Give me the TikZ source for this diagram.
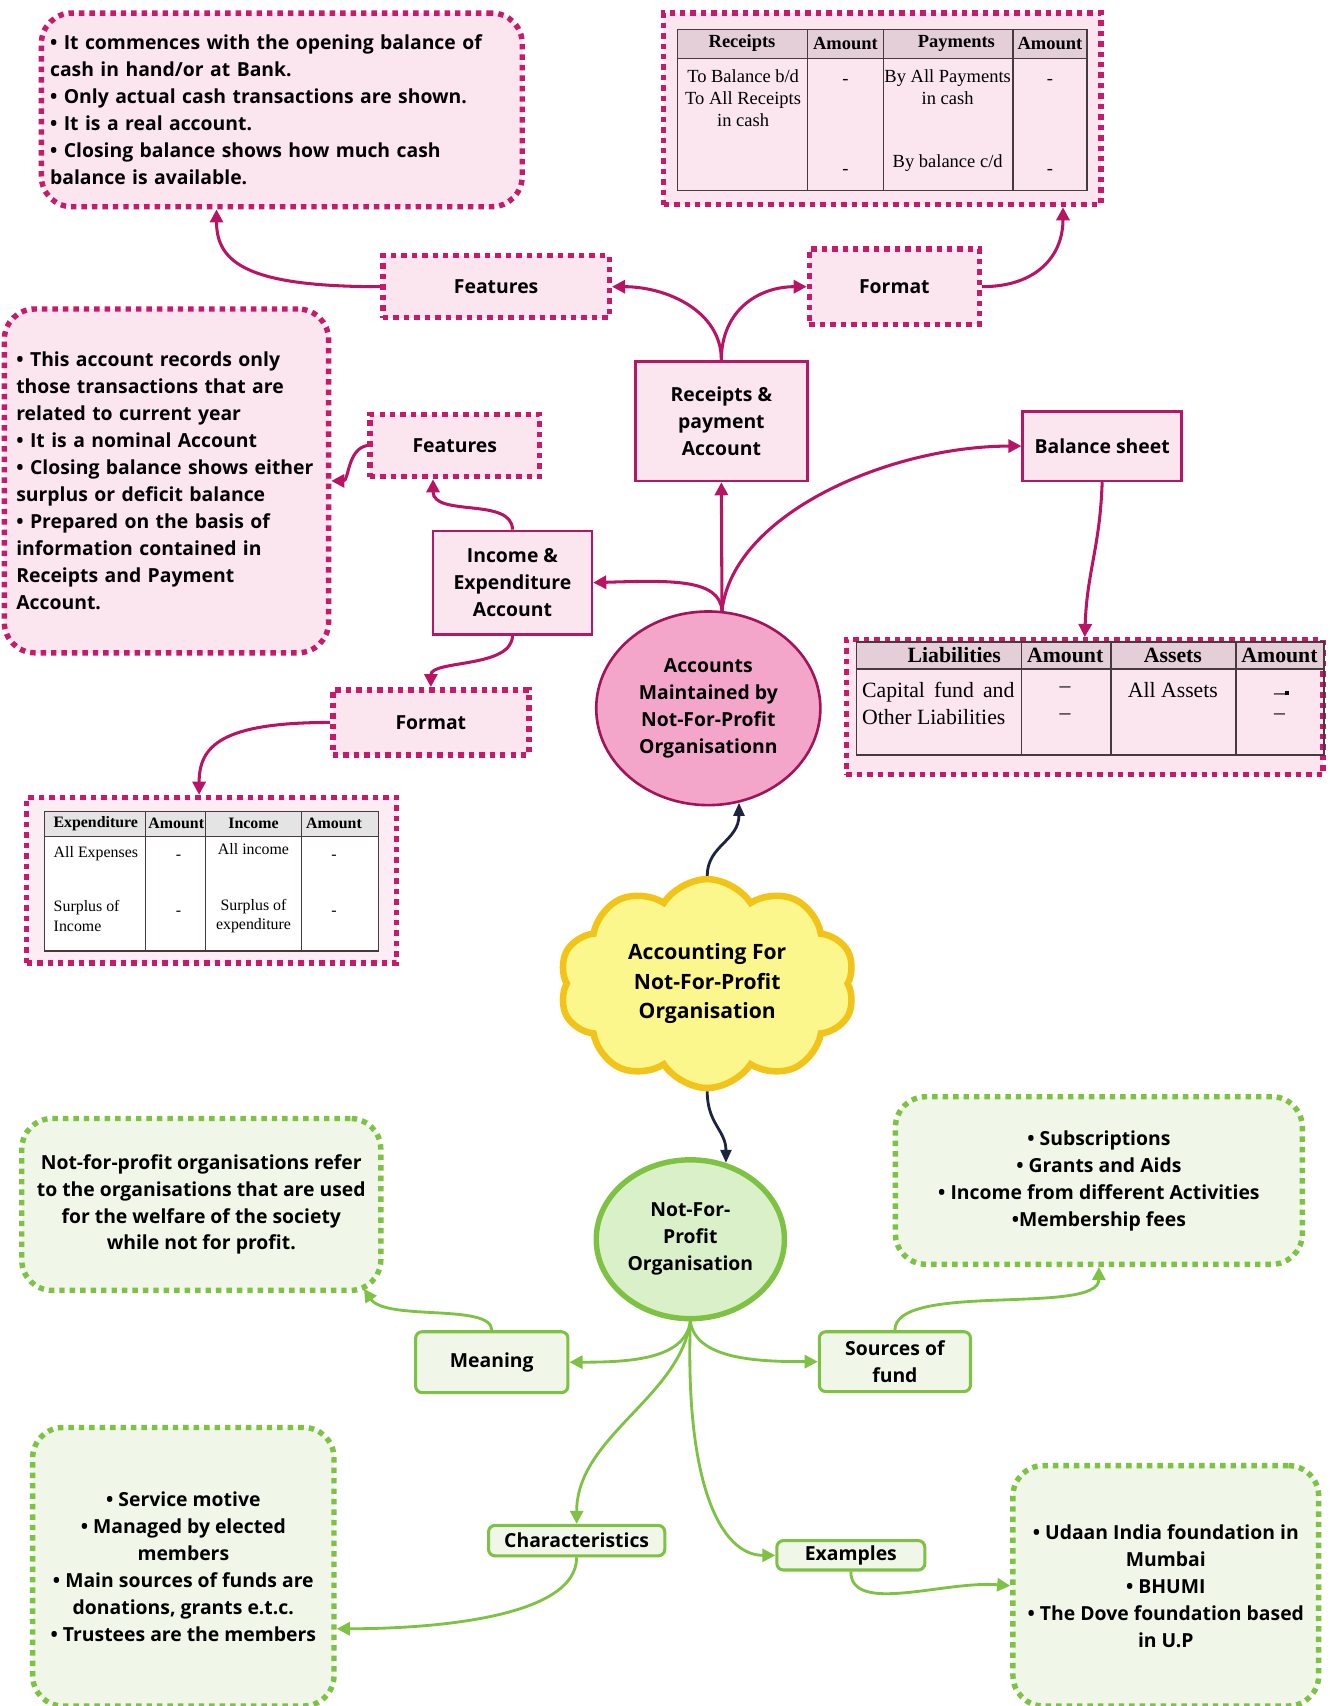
\documentclass[tikz,border=0pt]{standalone}
\usepackage{fontspec}
\setmainfont{Open Sans}
\newfontfamily\tabfont{Liberation Serif}
\usetikzlibrary{shapes.geometric,shapes.symbols,arrows.meta}
\definecolor{dotpink}{RGB}{201,26,105}
\definecolor{lightpink}{RGB}{251,229,238}
\definecolor{boxpink}{RGB}{183,22,100}
\definecolor{arrowpink}{RGB}{185,20,100}
\definecolor{accfill}{RGB}{244,166,202}
\definecolor{accdraw}{RGB}{160,20,90}
\definecolor{hdpink}{RGB}{228,206,216}
\definecolor{hdgray}{RGB}{228,228,228}
\definecolor{iepink}{RGB}{252,236,243}
\definecolor{tabgray}{RGB}{70,58,64}
\definecolor{cloudfill}{RGB}{252,247,140}
\definecolor{clouddraw}{RGB}{242,196,25}
\definecolor{npogreen}{RGB}{125,194,66}
\definecolor{npofill}{RGB}{218,240,200}
\definecolor{greenfill}{RGB}{240,247,233}
\definecolor{darknavy}{RGB}{28,36,64}
\begin{document}
\begin{tikzpicture}[x=0.5pt,y=-0.5pt,
	txt/.style={font=\fontsize{8.9}{12.4}\selectfont\bfseries},
	pinkdot/.style={draw=dotpink,fill=lightpink,line width=2.5pt,dash pattern=on 2.5pt off 2.3pt},
	pinkbox/.style={draw=boxpink,fill=lightpink,line width=1.2pt,txt,align=center,inner sep=0pt},
	greenbox/.style={draw=npogreen,fill=greenfill,line width=1.4pt,rounded corners=3pt,txt,align=center,inner sep=0pt},
	greendot/.style={draw=npogreen,fill=greenfill,line width=2.5pt,dash pattern=on 2.5pt off 2.3pt,rounded corners=14pt,txt,align=center,inner sep=0pt},
	pinkarrow/.style={draw=arrowpink,line width=1.4pt,-{Triangle[length=6pt,width=6pt]}},
	greenarrow/.style={draw=npogreen,line width=1.3pt,-{Triangle[length=6pt,width=6pt]}},
	darkarrow/.style={draw=darknavy,line width=1.3pt,-{Triangle[length=6pt,width=5pt]}},
	tab/.style={draw=tabgray,line width=0.6pt},
	tabtxt/.style={font=\tabfont\fontsize{8.5}{10}\selectfont,inner sep=0pt,align=center},
	tabhd/.style={font=\tabfont\fontsize{8.5}{10}\selectfont\bfseries,inner sep=0pt}]
	\useasboundingbox (0,0) rectangle (1222,1568);

	\node[pinkdot,rounded corners=14pt,txt,minimum width=221pt,minimum height=89pt,text width=213pt,inner xsep=4pt,align=left] (featRtext) at (259,101) {• It commences with the opening balance of\\cash in hand/or at Bank.\\• Only actual cash transactions are shown.\\• It is a real account.\\• Closing balance shows how much cash\\balance is available.};
	\node[pinkdot,minimum width=201pt,minimum height=88pt,inner sep=0pt] (rpTbox) at (811,100) {};
	\node[pinkbox,pinkdot,minimum width=104pt,minimum height=28.5pt] (featRP) at (456,263.5) {Features};
	\node[pinkbox,pinkdot,minimum width=78pt,minimum height=34.5pt] (fmtRP) at (822,263.5) {Format};
	\node[pinkbox,minimum width=79pt,minimum height=55pt] (rp) at (663,387) {Receipts \&\\payment\\Account};
	\node[pinkbox,minimum width=73pt,minimum height=32pt] (bs) at (1013,410) {Balance sheet};
	\node[pinkdot,rounded corners=14pt,txt,minimum width=149pt,minimum height=158pt,text width=138pt,inner xsep=5.5pt,align=left] (featIEtext) at (153,442) {• This account records only\\those transactions that are\\related to current year\\• It is a nominal Account\\• Closing balance shows either\\surplus or deficit balance\\• Prepared on the basis of\\information contained in\\Receipts and Payment\\Account.};
	\node[pinkbox,pinkdot,minimum width=78pt,minimum height=28.5pt] (featIE) at (418,409.5) {Features};
	\node[pinkbox,minimum width=73pt,minimum height=47.5pt] (ie) at (471,535.5) {Income \&\\Expenditure\\Account};
	\node[pinkbox,pinkdot,minimum width=90pt,minimum height=30pt] (fmtIE) at (396,664) {Format};
	\node[pinkdot,minimum width=219pt,minimum height=62pt,inner sep=0pt] (bsTbox) at (997,650) {};
	\node[pinkdot,fill=iepink,minimum width=170pt,minimum height=76pt,inner sep=0pt] (ieTbox) at (194.5,809) {};
	\node[ellipse,draw=accdraw,fill=accfill,line width=1.2pt,minimum width=103pt,minimum height=89pt,inner sep=0pt,txt,align=center] (acc) at (651,651) {Accounts\\Maintained by\\Not-For-Profit\\Organisationn};
	\node[cloud,cloud puffs=10,cloud puff arc=115,aspect=1.4,draw=clouddraw,fill=cloudfill,line width=3pt,minimum width=136pt,minimum height=96pt,inner sep=0pt,align=center,font=\fontsize{9.7}{13.5}\selectfont\bfseries] (cloud) at (650,904) {Accounting For\\Not-For-Profit\\Organisation};
	\node[ellipse,draw=npogreen,fill=npofill,line width=2.5pt,minimum width=86.5pt,minimum height=73pt,inner sep=0pt,txt,align=center] (npo) at (634.5,1139) {Not-For-\\Profit\\Organisation};
	\node[greendot,minimum width=165pt,minimum height=79pt] (meanText) at (185,1107) {Not-for-profit organisations refer\\to the organisations that are used\\for the welfare of the society\\while not for profit.};
	\node[greenbox,minimum width=70pt,minimum height=28pt] (meaning) at (452,1252) {Meaning};
	\node[greendot,minimum width=187pt,minimum height=77pt] (srcText) at (1010,1085) {• Subscriptions\\• Grants and Aids\\• Income from different Activities\\•Membership fees};
	\node[greenbox,minimum width=69.5pt,minimum height=27.5pt] (src) at (822.5,1251.5) {Sources of\\fund};
	\node[greendot,minimum width=138.5pt,minimum height=128pt] (charText) at (168.5,1440) {• Service motive\\• Managed by elected\\members\\• Main sources of funds are\\donations, grants e.t.c.\\• Trustees are the members};
	\node[greenbox,minimum width=81pt,minimum height=14pt] (char) at (530,1416) {Characteristics};
	\node[greendot,minimum width=140.5pt,minimum height=110.5pt] (exText) at (1071.5,1457.5) {• Udaan India foundation in\\Mumbai\\• BHUMI\\• The Dove foundation based\\in U.P};
	\node[greenbox,minimum width=68pt,minimum height=13.5pt] (ex) at (782,1429.5) {Examples};

	\fill[hdpink] (623,27) rectangle (999,54);
	\draw[tab] (623,27) rectangle (999,175) (623,54) -- (999,54)
		(742,27) -- (742,175) (812,27) -- (812,175) (931,27) -- (931,175);
	\node[tabhd] (rpH1) at (682,40) {Receipts};
	\node[tabhd] (rpH2) at (777,40) {Amount};
	\node[tabhd] (rpH3) at (879,40) {Payments};
	\node[tabhd] (rpH4) at (965,40) {Amount};
	\node[tabtxt] (rpB1) at (683,90) {To Balance b/d\\To All Receipts\\in cash};
	\node[tabtxt] (rpB2) at (777,75) {-};
	\node[tabtxt] (rpB3) at (777,158) {-};
	\node[tabtxt] (rpB4) at (871,80) {By All Payments\\in cash};
	\node[tabtxt] (rpB5) at (871,150) {By balance c/d};
	\node[tabtxt] (rpB6) at (965,75) {-};
	\node[tabtxt] (rpB7) at (965,158) {-};

	\fill[hdpink] (787,590) rectangle (1217,615);
	\draw[tab] (787,590) rectangle (1217,694) (787,615) -- (1217,615)
		(939,590) -- (939,694) (1021,590) -- (1021,694) (1136,590) -- (1136,694);
	\node[tabhd,font=\tabfont\fontsize{10}{12.5}\selectfont\bfseries] (bsH1) at (877,602) {Liabilities};
	\node[tabhd,font=\tabfont\fontsize{10}{12.5}\selectfont\bfseries] (bsH2) at (979,602) {Amount};
	\node[tabhd,font=\tabfont\fontsize{10}{12.5}\selectfont\bfseries] (bsH3) at (1078,602) {Assets};
	\node[tabhd,font=\tabfont\fontsize{10}{12.5}\selectfont\bfseries] (bsH4) at (1176,602) {Amount};
	\node[tabtxt,font=\tabfont\fontsize{10}{12.5}\selectfont,anchor=west,align=left] (bsB1) at (792,646.5) {\makebox[70pt][s]{Capital fund and}\\Other Liabilities};
	\node[tabtxt,font=\tabfont\fontsize{10}{12.5}\selectfont] (bsB2) at (979,646.5) {–\\–};
	\node[tabtxt,font=\tabfont\fontsize{10}{12.5}\selectfont] (bsB3) at (1078,634) {All Assets};
	\node[tabtxt,font=\tabfont\fontsize{10}{12.5}\selectfont] (bsB4) at (1178,639) {–\rule[0.4ex]{2pt}{2pt}};
	\node[tabtxt,font=\tabfont\fontsize{10}{12.5}\selectfont] (bsB5) at (1176,659) {–};

	\fill[white] (41,769) rectangle (348,874);
	\fill[hdgray] (41,746) rectangle (348,769);
	\draw[tab] (41,746) rectangle (348,874) (41,769) -- (348,769)
		(134,746) -- (134,874) (189,746) -- (189,874) (277,746) -- (277,874);
	\node[tabhd,font=\tabfont\fontsize{7.3}{9}\selectfont\bfseries] (ieH1) at (88,757) {Expenditure};
	\node[tabhd,font=\tabfont\fontsize{7.3}{9}\selectfont\bfseries] (ieH2) at (162,757) {Amount};
	\node[tabhd,font=\tabfont\fontsize{7.3}{9}\selectfont\bfseries] (ieH3) at (233,757) {Income};
	\node[tabhd,font=\tabfont\fontsize{7.3}{9}\selectfont\bfseries] (ieH4) at (307,757) {Amount};
	\node[tabtxt,font=\tabfont\fontsize{7.3}{9}\selectfont,anchor=west] (ieB1) at (49,785) {All Expenses};
	\node[tabtxt,font=\tabfont\fontsize{7.3}{9}\selectfont] (ieB2) at (164,788) {-};
	\node[tabtxt,font=\tabfont\fontsize{7.3}{9}\selectfont] (ieB3) at (233,780) {All income};
	\node[tabtxt,font=\tabfont\fontsize{7.3}{9}\selectfont] (ieB4) at (307,788) {-};
	\node[tabtxt,font=\tabfont\fontsize{7.3}{9}\selectfont,anchor=west,align=left] (ieB5) at (49,842) {Surplus of\\Income};
	\node[tabtxt,font=\tabfont\fontsize{7.3}{9}\selectfont] (ieB6) at (164,839) {-};
	\node[tabtxt,font=\tabfont\fontsize{7.3}{9}\selectfont] (ieB7) at (233,842) {Surplus of\\expenditure};
	\node[tabtxt,font=\tabfont\fontsize{7.3}{9}\selectfont] (ieB8) at (307,839) {-};

	\draw[pinkarrow] (featRP.west) .. controls +(-120,0) and +(0,50) .. ([xshift=-30pt]featRtext.south);
	\draw[pinkarrow] (rp.north) .. controls +(0,-45) and +(50,0) .. (featRP.east);
	\draw[pinkarrow] (rp.north) .. controls +(0,-45) and +(-45,0) .. (fmtRP.west);
	\draw[pinkarrow] (fmtRP.east) .. controls +(50,0) and +(0,45) .. ([xshift=83pt]rpTbox.south);
	\draw[pinkarrow] (acc.82) -- (rp.south);
	\draw[pinkarrow] (acc.82) .. controls +(-2,-30) and +(70,-2) .. (ie.east);
	\draw[pinkarrow] (acc.82) .. controls +(10,-90) and +(-120,0) .. (bs.west);
	\draw[pinkarrow] (bs.south) .. controls +(-2,60) and +(2,-60) .. (bsTbox.north);
	\draw[pinkarrow] (ie.north) .. controls +(0,-30) and +(0,35) .. ([xshift=-10pt]featIE.south);
	\draw[pinkarrow] (featIE.west) .. controls +(-18,3) and +(16,0) .. (featIEtext.east);
	\draw[pinkarrow] (ie.south) .. controls +(0,30) and +(0,-25) .. (fmtIE.north);
	\draw[pinkarrow] (fmtIE.west) .. controls +(-100,0) and +(0,-45) .. ([xshift=-5.75pt]ieTbox.north);

	\draw[darkarrow] (cloud.north) .. controls +(0,-28) and +(0,35) .. (acc.-72);
	\draw[darkarrow] (cloud.south) .. controls +(0,30) and +(0,-30) .. (npo.65);

	\draw[greenarrow] (npo.south) .. controls +(-5,35) and +(55,0) .. (meaning.east);
	\draw[greenarrow] (npo.south) .. controls +(5,35) and +(-55,0) .. (src.west);
	\draw[greenarrow] (npo.south) .. controls +(-10,70) and +(0,-80) .. (char.north);
	\draw[greenarrow] (npo.south) .. controls +(-5,150) and +(-50,0) .. (ex.west);
	\draw[greenarrow] (meaning.north) .. controls +(0,-25) and +(20,30) .. ([xshift=-9pt,yshift=2pt]meanText.south east);
	\draw[greenarrow] (src.north) .. controls +(0,-45) and +(0,45) .. (srcText.south);
	\draw[greenarrow] (char.south) .. controls +(0,55) and +(90,0) .. ([yshift=-28.5pt]charText.east);
	\draw[greenarrow] (ex.south) .. controls +(0,40) and +(-60,-5) .. (exText.west);
\end{tikzpicture}
\end{document}
